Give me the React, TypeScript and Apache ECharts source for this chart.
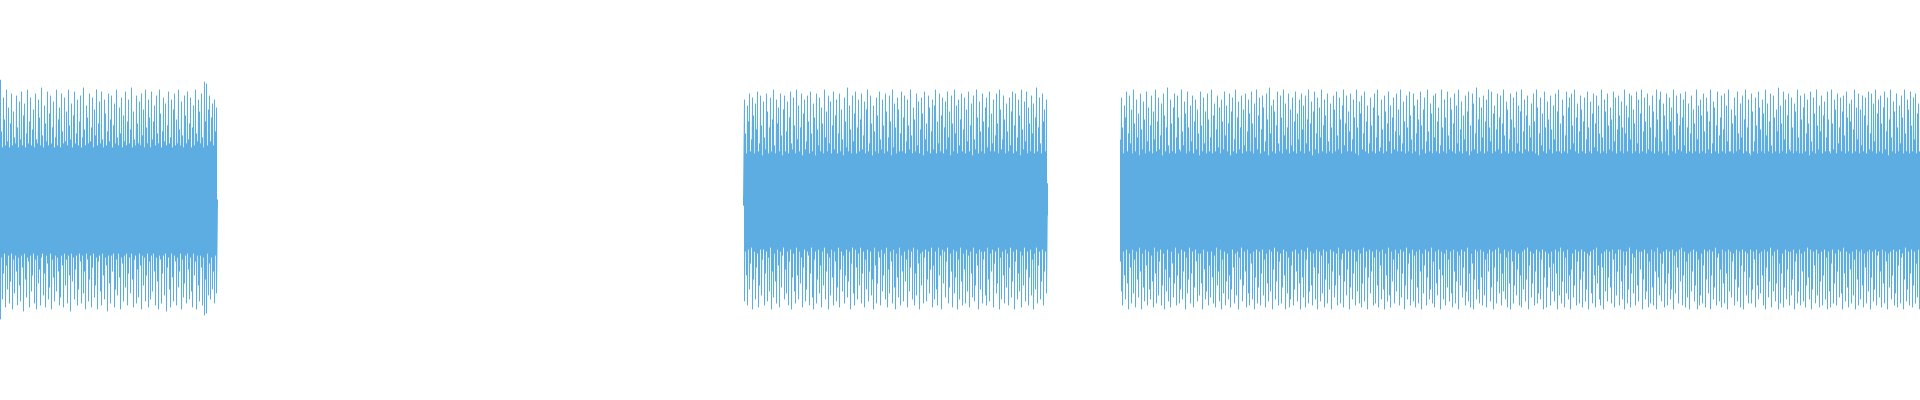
import React, { useEffect, useRef } from "react";
import * as echarts from "echarts";

// First sample column of each burst (one column = one sample bin)
const segStarts = [0, 743, 1120];

// Burst 1: per-column max (positive) and min (magnitude of negative)
const seg1High = [
  60, 34, 26, 51, 40, 27, 55, 29, 46, 26,
  38, 53, 27, 44, 31, 28, 52, 36, 26, 49,
  30, 54, 27, 42, 48, 26, 33, 55, 28, 39,
  51, 27, 35, 45, 26, 53, 30, 28, 50, 41,
  27, 56, 32, 26, 47, 38, 29, 54, 27, 43,
  52, 28, 36, 49, 26, 31, 55, 27, 40, 46,
  26, 53, 34, 28, 51, 29, 44, 27, 55, 37,
  30, 48, 26, 42, 54, 28, 33, 50, 27, 39,
  52, 26, 31, 56, 35, 27, 47, 41, 28, 53,
  29, 36, 51, 26, 45, 32, 55, 27, 38, 49,
  28, 54, 30, 26, 50, 43, 27, 34, 53, 29,
  40, 52, 26, 37, 48, 28, 55, 31, 27, 46,
  33, 51, 26, 42, 29, 54, 27, 39, 50, 28,
  35, 56, 26, 44, 30, 27, 52, 38, 28, 49,
  27, 53, 32, 45, 26, 55, 36, 28, 50, 41,
  26, 54, 30, 39, 47, 27, 52, 33, 28, 55,
  43, 26, 34, 51, 29, 48, 27, 37, 54, 28,
  31, 50, 26, 45, 53, 27, 40, 28, 55, 35,
  27, 49, 32, 26, 52, 42, 28, 54, 30, 38,
  51, 26, 36, 47, 27, 55, 33, 29, 50, 44,
  28, 53, 31, 26, 59, 39, 58, 27, 45, 52,
  29, 41, 48, 27, 50, 34, 46, 0,
];
const seg1Low = [
  60, 29, 50, 37, 27, 54, 33, 45, 28, 52,
  41, 27, 55, 30, 47, 28, 36, 53, 29, 43,
  51, 28, 34, 56, 27, 40, 49, 29, 31, 54,
  28, 46, 38, 27, 52, 30, 55, 28, 42, 35,
  53, 29, 27, 48, 37, 54, 28, 32, 50, 44,
  27, 55, 30, 39, 51, 28, 46, 29, 36, 53,
  49, 28, 33, 54, 27, 43, 30, 52, 28, 38,
  56, 27, 41, 29, 50, 35, 28, 53, 45, 27,
  31, 52, 28, 47, 36, 55, 27, 30, 51, 40,
  28, 54, 34, 27, 49, 43, 29, 55, 31, 28,
  46, 53, 27, 38, 50, 29, 33, 56, 28, 42,
  52, 28, 36, 27, 54, 45, 30, 48, 27, 39,
  55, 29, 32, 51, 28, 44, 27, 53, 37, 29,
  47, 27, 40, 54, 30, 28, 52, 35, 49, 27,
  33, 55, 28, 43, 29, 51, 38, 27, 54, 31,
  50, 28, 46, 27, 36, 53, 29, 41, 55, 28,
  30, 52, 37, 28, 48, 27, 56, 34, 29, 45,
  54, 27, 39, 51, 28, 31, 53, 29, 44, 36,
  27, 55, 30, 49, 42, 28, 52, 27, 35, 50,
  29, 46, 54, 27, 38, 31, 55, 28, 43, 51,
  28, 34, 53, 29, 58, 40, 57, 27, 48, 32,
  50, 29, 45, 36, 52, 28, 47, 0,
];

// Burst 2
const seg2High = [
  2, 50, 33, 23, 47, 39, 53, 24, 30, 51,
  42, 23, 48, 35, 54, 24, 28, 52, 37, 22,
  49, 31, 25, 53, 44, 23, 36, 51, 24, 40,
  55, 27, 23, 50, 38, 46, 24, 53, 32, 22,
  45, 52, 24, 34, 49, 23, 41, 54, 28, 25,
  51, 37, 23, 55, 30, 47, 24, 36, 53, 22,
  43, 50, 25, 29, 52, 39, 23, 54, 33, 24,
  48, 41, 22, 53, 35, 27, 51, 24, 46, 38,
  23, 55, 31, 44, 24, 52, 28, 49, 23, 37,
  54, 25, 42, 50, 23, 33, 53, 24, 45, 30,
  22, 51, 39, 26, 56, 24, 47, 35, 23, 52,
  29, 43, 54, 23, 36, 50, 24, 40, 53, 25,
  32, 49, 23, 45, 55, 24, 28, 52, 38, 22,
  47, 34, 24, 51, 42, 23, 54, 30, 25, 50,
  37, 23, 53, 44, 24, 31, 52, 39, 22, 55,
  26, 48, 36, 23, 51, 45, 24, 33, 54, 24,
  41, 52, 23, 29, 50, 37, 25, 55, 32, 23,
  46, 40, 24, 53, 27, 49, 23, 35, 51, 43,
  22, 54, 30, 38, 24, 52, 46, 23, 34, 50,
  25, 47, 55, 23, 39, 28, 53, 24, 42, 51,
  23, 36, 49, 25, 54, 31, 44, 22, 52, 38,
  24, 55, 33, 47, 23, 50, 27, 40, 53, 24,
  35, 51, 23, 45, 29, 54, 24, 37, 48, 22,
  52, 30, 25, 55, 41, 23, 49, 34, 24, 53,
  39, 23, 46, 51, 26, 36, 54, 24, 43, 28,
  50, 24, 32, 53, 38, 23, 55, 45, 25, 30,
  52, 40, 23, 48, 34, 24, 51, 27, 44, 54,
  23, 37, 53, 24, 31, 50, 42, 22, 55, 35,
  25, 49, 29, 54, 23, 46, 38, 24, 52, 33,
  48, 23, 41, 56, 24, 36, 51, 28, 23, 53,
  39, 45, 24, 50, 8,
];
const seg2Low = [
  3, 51, 26, 38, 53, 25, 45, 32, 24, 55,
  40, 26, 50, 34, 27, 54, 43, 25, 48, 30,
  25, 53, 37, 26, 51, 29, 46, 24, 55, 36,
  49, 27, 41, 52, 25, 33, 54, 26, 44, 28,
  24, 50, 35, 47, 26, 53, 31, 25, 55, 39,
  27, 46, 52, 24, 38, 50, 26, 42, 29, 54,
  34, 25, 51, 45, 26, 28, 53, 37, 24, 49,
  55, 30, 26, 52, 40, 25, 47, 33, 54, 26,
  43, 24, 50, 36, 27, 55, 29, 48, 25, 39,
  53, 26, 31, 51, 44, 24, 54, 35, 26, 46,
  28, 52, 38, 25, 49, 41, 26, 55, 32, 24,
  47, 53, 25, 34, 50, 27, 43, 24, 52, 37,
  26, 54, 30, 45, 25, 51, 36, 26, 48, 40,
  55, 24, 33, 52, 42, 26, 29, 53, 25, 46,
  38, 27, 50, 24, 54, 35, 47, 26, 31, 52,
  25, 44, 55, 27, 39, 49, 24, 53, 28, 36,
  51, 26, 41, 30, 54, 25, 46, 34, 26, 50,
  24, 53, 37, 48, 25, 32, 55, 27, 43, 26,
  52, 29, 25, 51, 40, 26, 47, 35, 24, 54,
  33, 50, 26, 45, 53, 24, 38, 28, 55, 25,
  42, 26, 49, 31, 24, 52, 44, 27, 36, 54,
  25, 47, 39, 26, 55, 30, 50, 24, 41, 53,
  27, 35, 52, 25, 46, 28, 54, 26, 37, 49,
  24, 51, 43, 27, 33, 55, 25, 45, 26, 52,
  30, 26, 48, 53, 24, 40, 51, 27, 36, 25,
  54, 32, 26, 47, 42, 24, 55, 29, 50, 26,
  38, 52, 25, 44, 27, 53, 34, 24, 49, 41,
  26, 55, 31, 25, 50, 37, 46, 26, 54, 28,
  43, 24, 51, 35, 26, 53, 39, 25, 48, 30,
  55, 27, 45, 24, 52, 33, 26, 50, 41, 25,
  53, 36, 26, 47, 8,
];

// Burst 3
const seg3High = [
  30, 51, 36, 23, 47, 41, 54, 24, 33, 52,
  28, 45, 23, 55, 38, 24, 50, 31, 43, 22,
  53, 35, 25, 49, 40, 23, 54, 29, 46, 24,
  37, 52, 23, 44, 30, 55, 24, 39, 51, 25,
  32, 48, 22, 53, 42, 24, 36, 56, 27, 23,
  50, 38, 24, 46, 53, 23, 31, 52, 41, 25,
  24, 55, 34, 27, 49, 43, 23, 54, 36, 24,
  47, 29, 52, 23, 39, 50, 25, 45, 33, 22,
  54, 37, 24, 51, 28, 44, 23, 53, 40, 24,
  31, 55, 23, 42, 48, 24, 35, 52, 26, 46,
  23, 50, 39, 25, 54, 32, 47, 24, 38, 53,
  22, 44, 51, 24, 30, 55, 23, 41, 49, 25,
  36, 52, 23, 45, 27, 53, 24, 34, 50, 43,
  24, 54, 38, 23, 48, 31, 55, 25, 42, 51,
  23, 35, 52, 46, 24, 29, 53, 40, 22, 56,
  33, 47, 24, 50, 44, 23, 37, 54, 28, 24,
  52, 41, 23, 55, 32, 48, 25, 36, 53, 23,
  45, 27, 51, 24, 39, 54, 23, 43, 30, 50,
  24, 53, 35, 47, 23, 52, 28, 40, 55, 24,
  38, 49, 22, 44, 54, 25, 33, 51, 23, 46,
  31, 55, 24, 37, 50, 42, 23, 53, 29, 24,
  48, 36, 23, 52, 45, 24, 54, 32, 25, 51,
  40, 23, 47, 55, 27, 38, 52, 24, 44, 34,
  53, 24, 30, 50, 41, 23, 55, 36, 22, 49,
  43, 52, 25, 33, 54, 24, 39, 47, 23, 28,
  51, 37, 24, 46, 53, 23, 31, 55, 42, 24,
  26, 50, 35, 23, 52, 44, 24, 38, 54, 29,
  47, 23, 41, 51, 25, 34, 53, 24, 45, 32,
  55, 24, 28, 49, 39, 23, 52, 36, 24, 54,
  42, 30, 23, 53, 47, 24, 33, 50, 40, 22,
  54, 37, 25, 45, 51, 23, 29, 55, 34, 24,
  48, 43, 23, 52, 31, 53, 24, 39, 46, 23,
  27, 55, 36, 24, 50, 41, 23, 54, 32, 25,
  51, 45, 24, 38, 53, 23, 47, 28, 55, 24,
  35, 49, 23, 42, 30, 52, 24, 44, 54, 22,
  37, 24, 53, 48, 25, 33, 56, 23, 40, 51,
  24, 46, 31, 52, 23, 39, 50, 24, 55, 36,
  29, 54, 23, 43, 47, 24, 35, 53, 25, 41,
  52, 23, 38, 55, 32, 24, 49, 45, 23, 30,
  53, 40, 24, 51, 36, 23, 54, 28, 47, 24,
  44, 55, 23, 34, 50, 25, 42, 52, 24, 37,
  31, 48, 24, 53, 39, 23, 55, 46, 22, 33,
  51, 27, 43, 24, 54, 36, 23, 49, 40, 25,
  52, 35, 23, 47, 30, 53, 24, 44, 55, 24,
  38, 23, 50, 42, 24, 32, 54, 23, 46, 51,
  25, 53, 37, 28, 55, 24, 41, 48, 23, 34,
  52, 45, 24, 39, 51, 23, 30, 54, 36, 24,
  49, 23, 43, 53, 26, 38, 52, 24, 47, 33,
  23, 55, 31, 24, 50, 44, 23, 53, 37, 25,
  46, 40, 24, 54, 29, 51, 23, 35, 52, 42,
  24, 49, 36, 23, 55, 33, 47, 24, 41, 53,
  30, 52, 23, 45, 38, 24, 54, 28, 50, 23,
  43, 55, 24, 34, 51, 39, 23, 53, 25, 47,
  36, 24, 52, 44, 23, 31, 55, 40, 24, 50,
  54, 29, 23, 48, 42, 24, 53, 35, 22, 51,
  39, 46, 24, 55, 32, 23, 52, 43, 25, 37,
  53, 24, 41, 50, 27, 54, 23, 36, 48, 24,
  33, 52, 23, 45, 38, 24, 55, 30, 47, 23,
  50, 42, 24, 53, 34, 23, 51, 44, 25, 39,
  55, 23, 28, 49, 46, 24, 37, 54, 23, 32,
  41, 52, 24, 35, 53, 23, 47, 29, 55, 24,
  24, 45, 38, 23, 51, 42, 24, 54, 33, 25,
  48, 31, 52, 23, 40, 55, 24, 36, 50, 23,
  22, 53, 44, 24, 29, 51, 37, 23, 54, 46,
  35, 24, 50, 43, 23, 55, 32, 48, 24, 39,
  53, 27, 23, 52, 41, 24, 45, 34, 56, 23,
  47, 38, 24, 54, 30, 50, 23, 42, 53, 25,
  24, 51, 36, 23, 48, 44, 24, 55, 31, 23,
  52, 40, 23, 46, 53, 24, 33, 50, 38, 22,
  54, 29, 24, 51, 43, 23, 55, 37, 25, 47,
  34, 52, 23, 42, 49, 24, 31, 54, 40, 24,
  23, 55, 38, 25, 50, 45, 23, 53, 28, 36,
  51, 24, 44, 52, 32, 23, 54, 41, 24, 48,
  39, 50, 23, 35, 55, 24, 46, 30, 53, 23,
  45, 27, 52, 24, 42, 51, 23, 37, 54, 25,
  33, 53, 24, 48, 29, 55, 23, 43, 50, 24,
  52, 38, 23, 46, 54, 25, 34, 51, 22, 40,
  55, 31, 24, 49, 44, 23, 53, 36, 24, 47,
  28, 52, 41, 23, 55, 33, 24, 50, 45, 23,
  54, 37, 24, 51, 30, 53, 23, 43, 48, 24,
];
const seg3Low = [
  31, 46, 53, 26, 38, 50, 25, 42, 55, 27,
  34, 52, 25, 47, 30, 54, 26, 40, 49, 24,
  36, 55, 27, 44, 51, 25, 33, 53, 26, 45,
  50, 28, 41, 54, 24, 37, 52, 26, 48, 31,
  25, 53, 43, 27, 55, 35, 46, 25, 51, 39,
  54, 26, 32, 49, 42, 24, 53, 38, 27, 52,
  45, 25, 50, 36, 26, 55, 29, 47, 40, 24,
  52, 37, 26, 54, 44, 25, 31, 51, 27, 48,
  27, 42, 55, 25, 35, 50, 46, 26, 53, 33,
  49, 26, 39, 52, 28, 54, 24, 43, 36, 51,
  25, 55, 30, 47, 26, 53, 41, 27, 50, 38,
  54, 45, 25, 34, 52, 27, 48, 26, 55, 29,
  40, 24, 51, 43, 26, 36, 54, 25, 47, 53,
  27, 32, 50, 26, 55, 39, 25, 52, 44, 26,
  53, 37, 25, 48, 30, 54, 27, 42, 51, 25,
  46, 26, 55, 35, 24, 50, 41, 26, 53, 31,
  27, 52, 44, 25, 38, 55, 26, 47, 29, 54,
  50, 33, 26, 53, 45, 25, 36, 51, 27, 42,
  55, 25, 39, 49, 26, 54, 30, 24, 52, 46,
  26, 43, 53, 27, 34, 50, 25, 55, 37, 26,
  51, 28, 47, 25, 54, 40, 26, 52, 32, 45,
  25, 55, 36, 26, 49, 43, 27, 53, 24, 38,
  52, 30, 27, 54, 41, 25, 48, 35, 26, 55,
  44, 25, 50, 37, 26, 53, 31, 46, 25, 52,
  27, 54, 42, 24, 51, 34, 26, 55, 39, 25,
  47, 36, 26, 53, 29, 52, 25, 43, 54, 26,
  33, 50, 25, 45, 55, 27, 38, 51, 24, 48,
  54, 26, 41, 30, 52, 25, 46, 35, 27, 53,
  25, 49, 37, 26, 55, 43, 24, 50, 32, 27,
  53, 40, 25, 51, 28, 54, 26, 44, 52, 25,
  36, 55, 27, 47, 33, 25, 53, 39, 26, 50,
  45, 24, 52, 31, 54, 26, 42, 48, 25, 35,
  55, 26, 38, 50, 27, 53, 25, 44, 30, 51,
  26, 47, 54, 25, 36, 52, 41, 26, 55, 28,
  43, 25, 49, 34, 26, 53, 46, 24, 51, 37,
  54, 27, 32, 55, 40, 25, 50, 26, 45, 52,
  25, 39, 53, 26, 48, 30, 54, 27, 36, 25,
  51, 44, 26, 55, 34, 25, 52, 41, 24, 47,
  27, 53, 37, 46, 25, 50, 29, 54, 26, 42,
  55, 25, 31, 52, 43, 26, 48, 35, 27, 53,
  38, 54, 26, 45, 25, 51, 40, 24, 55, 33,
  26, 49, 42, 27, 53, 36, 25, 52, 47, 26,
  50, 30, 25, 55, 39, 26, 54, 44, 27, 34,
  53, 26, 46, 32, 51, 25, 37, 55, 26, 48,
  24, 52, 41, 26, 54, 29, 47, 25, 50, 38,
  55, 35, 27, 49, 43, 25, 53, 31, 26, 52,
  40, 25, 54, 36, 26, 51, 45, 27, 55, 28,
  26, 47, 52, 25, 38, 54, 24, 42, 33, 50,
  53, 27, 34, 55, 26, 46, 25, 51, 39, 26,
  44, 52, 25, 30, 54, 27, 48, 36, 25, 53,
  25, 41, 50, 26, 55, 33, 26, 52, 45, 24,
  54, 37, 27, 47, 29, 53, 25, 43, 51, 26,
  35, 26, 55, 40, 25, 50, 46, 27, 54, 31,
  52, 25, 44, 53, 26, 36, 55, 24, 39, 48,
  27, 51, 32, 26, 54, 42, 25, 53, 37, 26,
  50, 45, 25, 55, 28, 47, 26, 34, 52, 25,
  41, 24, 53, 38, 26, 54, 31, 49, 27, 55,
  26, 46, 36, 25, 51, 43, 26, 55, 30, 53,
  48, 27, 52, 33, 25, 54, 40, 26, 47, 25,
  55, 38, 26, 50, 44, 24, 53, 29, 27, 51,
  35, 54, 25, 42, 52, 26, 37, 55, 25, 46,
  26, 49, 31, 27, 53, 40, 25, 51, 44, 26,
  54, 33, 25, 55, 36, 26, 48, 27, 52, 39,
  25, 52, 45, 26, 30, 54, 25, 43, 50, 27,
  47, 26, 38, 53, 25, 55, 34, 26, 49, 41,
  24, 54, 28, 46, 26, 51, 42, 25, 55, 32,
  52, 37, 27, 54, 44, 25, 50, 35, 26, 53,
  26, 48, 40, 25, 55, 31, 27, 52, 46, 25,
  53, 27, 36, 51, 26, 54, 43, 24, 39, 50,
  25, 55, 45, 26, 33, 52, 25, 48, 27, 54,
  41, 26, 53, 38, 25, 50, 29, 55, 26, 46,
  54, 32, 25, 52, 42, 27, 53, 36, 25, 49,
  26, 47, 55, 24, 37, 51, 26, 44, 54, 27,
  35, 52, 26, 48, 30, 55, 25, 40, 53, 26,
  50, 25, 43, 54, 27, 34, 52, 26, 46, 25,
  55, 39, 26, 51, 45, 25, 53, 28, 26, 49,
  36, 54, 25, 42, 52, 26, 31, 55, 27, 44,
  26, 50, 38, 25, 53, 47, 26, 54, 33, 25,
  52, 29, 27, 55, 40, 24, 51, 45, 26, 53,
  37, 25, 54, 43, 26, 52, 32, 49, 25, 55,
];

const totalColumns = 1920;
const waveColor = "#5dade2";

// Each column becomes a vertical stroke from its max down to its min.
function buildSegment(start: number, high: number[], low: number[]) {
  const pts: [number, number][] = [];
  const n = Math.min(high.length, low.length);
  for (let i = 0; i < n; i++) {
    pts.push([start + i, high[i]]);
    pts.push([start + i, -low[i]]);
  }
  return pts;
}

export default function App() {
  const ref = useRef<HTMLDivElement>(null);

  useEffect(() => {
    document.body.style.margin = "0";
    if (!ref.current) return;
    const chart = echarts.init(ref.current, undefined, { renderer: "svg" });
    const segments = [
      buildSegment(segStarts[0], seg1High, seg1Low),
      buildSegment(segStarts[1], seg2High, seg2Low),
      buildSegment(segStarts[2], seg3High, seg3Low),
    ];
    chart.setOption({
      animation: false,
      grid: { left: 0, right: 0, top: 0, bottom: 1 },
      xAxis: {
        type: "value",
        min: -0.5,
        max: totalColumns - 0.5,
        show: false,
      },
      yAxis: {
        type: "value",
        min: -100,
        max: 100,
        show: false,
      },
      series: segments.map((data) => ({
        type: "line",
        data,
        showSymbol: false,
        symbol: "none",
        silent: true,
        lineStyle: { color: waveColor, width: 1 },
        itemStyle: { color: waveColor },
      })),
    });
    return () => chart.dispose();
  }, []);

  return <div ref={ref} style={{ width: 1920, height: 400 }} />;
}
